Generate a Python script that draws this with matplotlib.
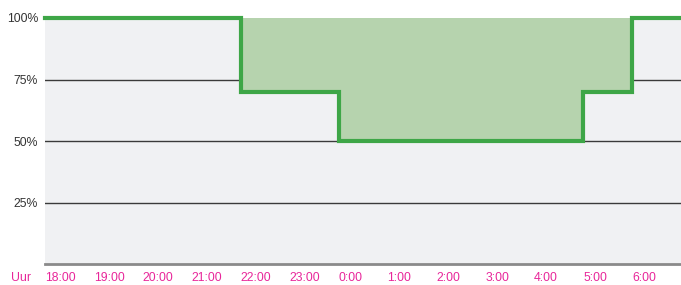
import matplotlib.pyplot as plt
from matplotlib.transforms import offset_copy

# hours since midnight of the first day (24 = 0:00 next day)
uren = [18, 22, 24, 29, 30, 31]
percentage = [100, 70, 50, 70, 100, 100]
tick_uren = list(range(18, 31))
tick_labels = [f"{h % 24}:00" for h in tick_uren]
y_ticks = [25, 50, 75, 100]

groen = "#3ea647"
vulling = "#b6d3ae"
roze = "#e8269a"

plt.rcParams['font.family'] = ['Liberation Sans', 'DejaVu Sans']

fig = plt.figure(figsize=(6.81, 2.85), dpi=100)
ax = fig.add_axes([45 / 681, 21 / 285, 636 / 681, 246 / 285])
ax.set_facecolor("#f0f1f3")

ax.set_xlim(18, 31)
ax.set_ylim(0, 100)

for y in y_ticks[:-1]:
    ax.axhline(y, color="#3a3a3a", lw=1.0, zorder=1)

ax.fill_between(uren, percentage, 100, step="post", color=vulling, lw=0, zorder=2)
ax.plot(uren, percentage, drawstyle="steps-post", color=groen, lw=3, zorder=3,
        solid_joinstyle="miter", clip_on=False)

for s in ["top", "right", "left"]:
    ax.spines[s].set_visible(False)
ax.spines["bottom"].set_color("#8a8a8a")
ax.spines["bottom"].set_linewidth(2)

ax.set_yticks(y_ticks)
ax.set_yticklabels([f"{y}%" for y in y_ticks], fontsize=8.8, color="#333333")
ax.tick_params(axis="y", length=0, pad=5)

ax.set_xticks(tick_uren)
ax.set_xticklabels(tick_labels, fontsize=8.8, color=roze, ha="left")
ax.tick_params(axis="x", length=0, pad=5.5)
trans = offset_copy(ax.get_xaxis_transform(), fig=fig, x=0, y=-5.5, units="points")
ax.text(17.31, 0, "Uur", transform=trans, fontsize=8.8, color=roze,
        ha="left", va="top", clip_on=False)

fig.savefig("out.png", dpi=100)
